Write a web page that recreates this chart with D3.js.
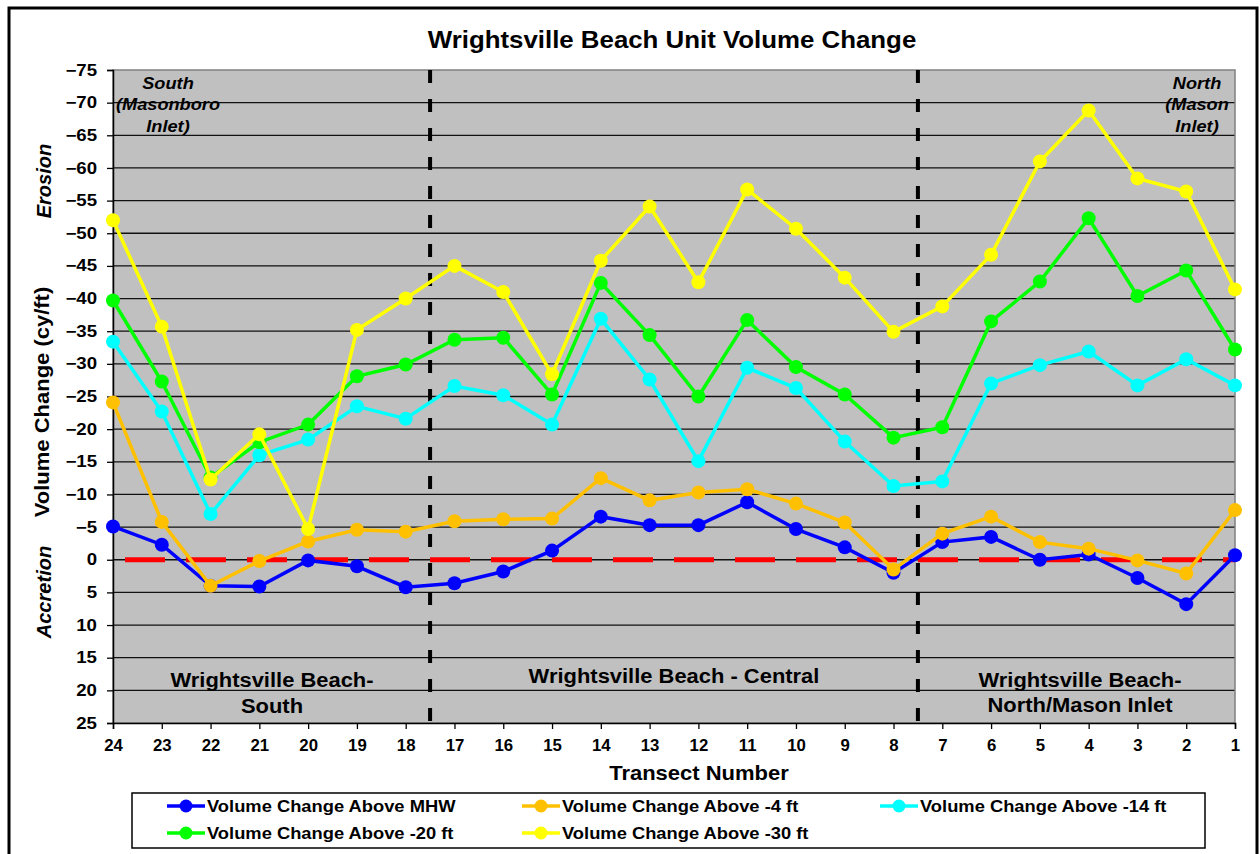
<!DOCTYPE html>
<html>
<head>
<meta charset="utf-8">
<script src="https://cdn.jsdelivr.net/npm/d3@7"></script>
<style>
  body { margin: 0; background: #fff; }
  svg { display: block; font-family: "Liberation Sans", Arial, sans-serif; }
</style>
</head>
<body>
<div id="chart"></div>
<script>
// transects, plotted left to right
const transects = [24, 23, 22, 21, 20, 19, 18, 17, 16, 15, 14, 13, 12, 11, 10, 9, 8, 7, 6, 5, 4, 3, 2, 1];

// volume change (cy/ft), negative = erosion
const aboveMHW = [-5.1, -2.3, 4.0, 4.1, 0.1, 1.0, 4.2, 3.6, 1.8, -1.4, -6.6, -5.3, -5.3, -8.8, -4.7, -1.9, 2.0, -2.7, -3.5, 0.0, -0.8, 2.8, 6.8, -0.7];
const above4 = [-24.1, -5.8, 4.0, 0.2, -2.8, -4.6, -4.3, -5.9, -6.2, -6.3, -12.5, -9.1, -10.3, -10.8, -8.6, -5.7, 1.5, -4.0, -6.6, -2.7, -1.7, 0.1, 2.1, -7.6];
const above14 = [-33.4, -22.7, -7.0, -16.0, -18.4, -23.5, -21.6, -26.6, -25.2, -20.7, -36.9, -27.6, -15.1, -29.4, -26.3, -18.1, -11.3, -12.0, -27.0, -29.8, -31.9, -26.7, -30.7, -26.7];
const above20 = [-39.7, -27.3, -12.6, -18.0, -20.7, -28.1, -29.9, -33.7, -34.0, -25.3, -42.4, -34.4, -25.0, -36.7, -29.5, -25.3, -18.7, -20.3, -36.5, -42.6, -52.3, -40.4, -44.3, -32.2];
const above30 = [-52.0, -35.7, -12.3, -19.2, -4.7, -35.2, -40.0, -45.0, -41.0, -28.4, -45.8, -54.1, -42.5, -56.7, -50.7, -43.2, -34.9, -38.8, -46.7, -61.0, -68.8, -58.4, -56.4, -41.4];

const yTicks = d3.range(-75, 26, 5);

const series = [
  { name: 'Volume Change Above MHW', values: aboveMHW, color: '#0000ff' },
  { name: 'Volume Change Above -4 ft', values: above4, color: '#ffc000' },
  { name: 'Volume Change Above -14 ft', values: above14, color: '#00ffff' },
  { name: 'Volume Change Above -20 ft', values: above20, color: '#00ff00' },
  { name: 'Volume Change Above -30 ft', values: above30, color: '#ffff00' }
];

const width = 1260, height = 854;
const plot = { left: 113, right: 1235, top: 70, bottom: 723 };

const svg = d3.select('#chart').append('svg')
  .attr('width', width)
  .attr('height', height);

svg.append('rect')
  .attr('x', 9).attr('y', 8)
  .attr('width', 1248).attr('height', 860)
  .attr('fill', '#fff')
  .attr('stroke', '#000')
  .attr('stroke-width', 3);

const x = d3.scalePoint()
  .domain(transects)
  .range([plot.left, plot.right]);

const y = d3.scaleLinear()
  .domain([-75, 25])
  .range([plot.top, plot.bottom]);

// plot background
svg.append('rect')
  .attr('x', plot.left).attr('y', plot.top)
  .attr('width', plot.right - plot.left)
  .attr('height', plot.bottom - plot.top)
  .attr('fill', '#c0c0c0');

// gridlines
svg.append('g')
  .selectAll('line')
  .data(yTicks.slice(1, -1))
  .join('line')
  .attr('x1', plot.left).attr('x2', plot.right)
  .attr('y1', d => y(d)).attr('y2', d => y(d))
  .attr('stroke', '#111')
  .attr('stroke-width', 1.3);

svg.append('rect')
  .attr('x', plot.left).attr('y', plot.top)
  .attr('width', plot.right - plot.left)
  .attr('height', plot.bottom - plot.top)
  .attr('fill', 'none')
  .attr('stroke', '#808080')
  .attr('stroke-width', 1.5);

// axes (Excel-rendered text is a bit wider than Arial, so stretch it)
const yAxis = svg.append('g')
  .attr('transform', `translate(${plot.left},0)`)
  .call(d3.axisLeft(y).tickValues(yTicks).tickSize(6).tickPadding(10));
yAxis.select('.domain').attr('stroke', '#000').attr('stroke-width', 1.5);
yAxis.selectAll('.tick line').attr('stroke', '#000').attr('stroke-width', 1.3);
yAxis.selectAll('text')
  .attr('x', 0)
  .attr('transform', 'translate(-16,0) scale(1.18,1)')
  .attr('font-size', 15.8).attr('font-weight', 'bold').attr('fill', '#000')
  .attr('font-family', '"Liberation Sans", Arial, sans-serif');

const xAxis = svg.append('g')
  .attr('transform', `translate(0,${plot.bottom})`)
  .call(d3.axisBottom(x).tickSize(6).tickPadding(10));
xAxis.select('.domain').attr('stroke', '#000').attr('stroke-width', 1.5);
xAxis.selectAll('.tick line').attr('stroke', '#000').attr('stroke-width', 1.3);
xAxis.selectAll('text')
  .attr('transform', 'scale(1.03,1)')
  .attr('font-size', 16.3).attr('font-weight', 'bold').attr('fill', '#000')
  .attr('font-family', '"Liberation Sans", Arial, sans-serif');

// zero line
svg.append('line')
  .attr('x1', plot.left).attr('x2', plot.right)
  .attr('y1', y(0)).attr('y2', y(0))
  .attr('stroke', '#ff0000')
  .attr('stroke-width', 5)
  .attr('stroke-dasharray', '40 21')
  .attr('stroke-dashoffset', -12);

// section dividers between 18|17 and 8|7
const step = x.step();
[18, 8].forEach(t => {
  svg.append('line')
    .attr('x1', x(t) + step / 2).attr('x2', x(t) + step / 2)
    .attr('y1', plot.top).attr('y2', plot.bottom)
    .attr('stroke', '#000')
    .attr('stroke-width', 4)
    .attr('stroke-dasharray', '13 16');
});

// series
const line = d3.line()
  .x((d, i) => x(transects[i]))
  .y(d => y(d));

series.forEach(s => {
  const g = svg.append('g');
  g.append('path')
    .datum(s.values)
    .attr('d', line)
    .attr('fill', 'none')
    .attr('stroke', s.color)
    .attr('stroke-width', 3.5);
  g.selectAll('circle')
    .data(s.values)
    .join('circle')
    .attr('cx', (d, i) => x(transects[i]))
    .attr('cy', d => y(d))
    .attr('r', 7)
    .attr('fill', s.color);
});

// text helpers
function label(cx, cy, txt, size, sx, opts = {}) {
  const rot = opts.rotate ? ' rotate(-90)' : '';
  return svg.append('text')
    .attr('transform', `translate(${cx},${cy})${rot} scale(${sx},1)`)
    .attr('text-anchor', opts.anchor || 'middle')
    .attr('font-size', size).attr('font-weight', 'bold')
    .attr('font-style', opts.italic ? 'italic' : 'normal')
    .text(txt);
}

function multiline(lines, cx, cy, lh, size, sx, italic) {
  const t = svg.append('text')
    .attr('transform', `translate(${cx},${cy}) scale(${sx},1)`)
    .attr('text-anchor', 'middle')
    .attr('font-size', size).attr('font-weight', 'bold')
    .attr('font-style', italic ? 'italic' : 'normal');
  lines.forEach((l, i) => {
    t.append('tspan').attr('x', 0).attr('y', i * lh).text(l);
  });
}

label(672, 48, 'Wrightsville Beach Unit Volume Change', 23.5, 1.1);
label(49, 402, 'Volume Change (cy/ft)', 20, 1.1, { rotate: true });
label(51, 181, 'Erosion', 19.5, 1.03, { rotate: true, italic: true });
label(51, 592, 'Accretion', 19.5, 1.03, { rotate: true, italic: true });
label(699, 780, 'Transect Number', 20, 1.1);

multiline(['South', '(Masonboro', 'Inlet)'], 168, 89, 21.5, 17, 1.07, true);
multiline(['North', '(Mason', 'Inlet)'], 1197, 89, 21.5, 17, 1.07, true);
multiline(['Wrightsville Beach-', 'South'], 272, 687, 26, 20.5, 1.07, false);
multiline(['Wrightsville Beach - Central'], 674, 683, 26, 20.5, 1.07, false);
multiline(['Wrightsville Beach-', 'North/Mason Inlet'], 1080, 687, 25, 20.5, 1.07, false);

// legend
svg.append('rect')
  .attr('x', 132).attr('y', 793)
  .attr('width', 1073).attr('height', 55)
  .attr('fill', '#fff')
  .attr('stroke', '#000')
  .attr('stroke-width', 1.5);

const legendPos = [
  [167, 806], [522, 806], [880, 806],
  [167, 833], [522, 833]
];
series.forEach((s, i) => {
  const [lx, ly] = legendPos[i];
  const g = svg.append('g').attr('transform', `translate(${lx},${ly})`);
  g.append('line')
    .attr('x1', 0).attr('x2', 38)
    .attr('stroke', s.color).attr('stroke-width', 3.5);
  g.append('circle').attr('cx', 19).attr('r', 6.5).attr('fill', s.color);
  g.append('text')
    .attr('transform', 'translate(40,5.5) scale(1.16,1)')
    .attr('font-size', 15.8).attr('font-weight', 'bold')
    .text(s.name);
});
</script>
</body>
</html>
